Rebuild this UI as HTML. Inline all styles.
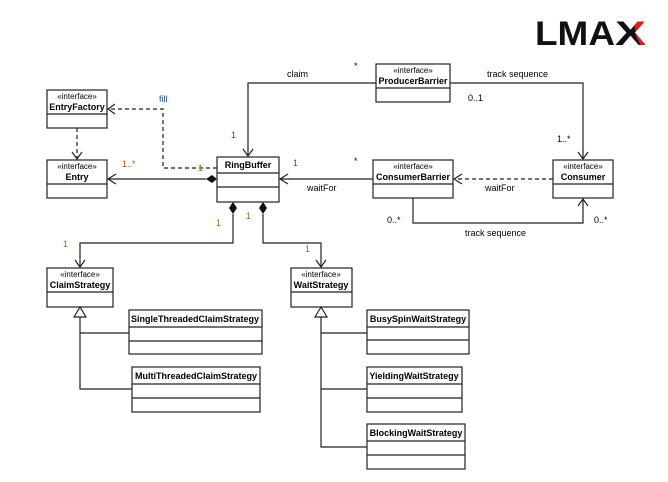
<!DOCTYPE html>
<html><head><meta charset="utf-8"><style>
html,body{margin:0;padding:0;background:#fff;}
svg{display:block;}
text{font-family:"Liberation Sans",Arial,sans-serif;font-size:9px;}
.b{font-weight:bold;}
.s{font-size:8px;}
.o{fill:#b06000;}
.bl{fill:#1a4fa0;}
</style></head><body>
<svg width="668" height="482" viewBox="0 0 668 482" xmlns="http://www.w3.org/2000/svg">
<defs>
<clipPath id="cr"><polygon points="633,15 660,15 660,50 643,50 636,36"/></clipPath>
</defs>
<g stroke="#222" fill="#fff" stroke-width="1.2">
<rect x="47" y="90" width="60" height="38"/><line x1="47" y1="114" x2="107" y2="114"/>
<rect x="47" y="160" width="60" height="38"/><line x1="47" y1="184" x2="107" y2="184"/>
<rect x="217" y="157" width="62" height="45"/><line x1="217" y1="173" x2="279" y2="173"/><line x1="217" y1="187" x2="279" y2="187"/>
<rect x="376" y="64" width="74" height="38"/><line x1="376" y1="88" x2="450" y2="88"/>
<rect x="373" y="160" width="80" height="38"/><line x1="373" y1="184" x2="453" y2="184"/>
<rect x="553" y="160" width="60" height="38"/><line x1="553" y1="184" x2="613" y2="184"/>
<rect x="47" y="268" width="66" height="39"/><line x1="47" y1="292" x2="113" y2="292"/>
<rect x="291" y="268" width="61" height="39"/><line x1="291" y1="292" x2="352" y2="292"/>
<rect x="129" y="310" width="133" height="44"/><line x1="129" y1="327" x2="262" y2="327"/><line x1="129" y1="341" x2="262" y2="341"/>
<rect x="132" y="367" width="128" height="45"/><line x1="132" y1="384" x2="260" y2="384"/><line x1="132" y1="398" x2="260" y2="398"/>
<rect x="367" y="310" width="102" height="44"/><line x1="367" y1="327" x2="469" y2="327"/><line x1="367" y1="340" x2="469" y2="340"/>
<rect x="367" y="367" width="95" height="45"/><line x1="367" y1="384" x2="462" y2="384"/><line x1="367" y1="398" x2="462" y2="398"/>
<rect x="367" y="424" width="98" height="45"/><line x1="367" y1="441" x2="465" y2="441"/><line x1="367" y1="455" x2="465" y2="455"/>
</g>
<g stroke="#222" fill="none" stroke-width="1.2">
<line x1="77" y1="128" x2="77" y2="159" stroke-dasharray="4,3"/>
<polyline points="72,152 77,159 82,152"/>
<polyline points="217,168 163,168 163,109 108,109" stroke-dasharray="4,3"/>
<polyline points="115,104 108,109 115,114"/>
<line x1="108" y1="179" x2="206" y2="179"/>
<polyline points="116,174 108,179 116,184"/>
<polyline points="376,83 248,83 248,156"/>
<polyline points="243,149 248,156 253,149"/>
<line x1="373" y1="179" x2="280" y2="179"/>
<polyline points="288,174 280,179 288,184"/>
<polyline points="450,83 583,83 583,159"/>
<polyline points="578,152 583,159 588,152"/>
<line x1="553" y1="179" x2="454" y2="179" stroke-dasharray="4,3"/>
<polyline points="462,174 454,179 462,184"/>
<polyline points="413,198 413,223 583,223 583,199"/>
<polyline points="578,206 583,199 588,206"/>
<polyline points="233,214 233,243 80,243 80,267"/>
<polyline points="75,260 80,267 85,260"/>
<polyline points="263,214 263,243 321,243 321,267"/>
<polyline points="316,260 321,267 326,260"/>
<polyline points="80,317 80,389 132,389"/>
<line x1="80" y1="333" x2="129" y2="333"/>
<polyline points="321,317 321,447 367,447"/>
<line x1="321" y1="333" x2="367" y2="333"/>
<line x1="321" y1="389" x2="367" y2="389"/>
</g>
<g fill="#fff" stroke="#222" stroke-width="1.2">
<polygon points="80,307 74,317 86,317"/>
<polygon points="321,307 315,317 327,317"/>
</g>
<g fill="#111">
<polygon points="217,179 212,175 206,179 212,183"/>
<polygon points="233,202 229,208 233,214 237,208"/>
<polygon points="263,202 259,208 263,214 267,208"/>
</g>
<g text-anchor="middle">
<text x="77" y="99" class="s">«interface»</text><text x="77" y="110" class="b">EntryFactory</text>
<text x="77" y="169" class="s">«interface»</text><text x="77" y="180" class="b">Entry</text>
<text x="248" y="168" class="b">RingBuffer</text>
<text x="413" y="73" class="s">«interface»</text><text x="413" y="84" class="b">ProducerBarrier</text>
<text x="413" y="169" class="s">«interface»</text><text x="413" y="180" class="b">ConsumerBarrier</text>
<text x="583" y="169" class="s">«interface»</text><text x="583" y="180" class="b">Consumer</text>
<text x="80" y="277" class="s">«interface»</text><text x="80" y="288" class="b">ClaimStrategy</text>
<text x="321" y="277" class="s">«interface»</text><text x="321" y="288" class="b">WaitStrategy</text>
<text x="195" y="322" class="b">SingleThreadedClaimStrategy</text>
<text x="196" y="379" class="b">MultiThreadedClaimStrategy</text>
<text x="418" y="322" class="b">BusySpinWaitStrategy</text>
<text x="414" y="379" class="b">YieldingWaitStrategy</text>
<text x="416" y="436" class="b">BlockingWaitStrategy</text>
</g>
<text x="287" y="77">claim</text>
<text x="487" y="77">track sequence</text>
<text x="307" y="191">waitFor</text>
<text x="485" y="191">waitFor</text>
<text x="465" y="236">track sequence</text>
<text x="159" y="102" class="bl">fill</text>
<text x="231" y="138" class="bl">1</text>
<text x="293" y="166" class="bl">1</text>
<text x="354" y="69">*</text>
<text x="354" y="164">*</text>
<text x="468" y="101">0..1</text>
<text x="557" y="142">1..*</text>
<text x="387" y="223">0..*</text>
<text x="594" y="223">0..*</text>
<text x="122" y="167" class="o">1..*</text>
<text x="198" y="171" class="o">1</text>
<text x="216" y="226" class="o">1</text>
<text x="246" y="219" class="o">1</text>
<text x="63" y="247" class="o">1</text>
<text x="305" y="252" class="o">1</text>
<text x="535" y="45" textLength="80" lengthAdjust="spacingAndGlyphs" style="font-size:34px;font-weight:900" fill="#111">LMA</text>
<text x="615" y="45" textLength="31" lengthAdjust="spacingAndGlyphs" style="font-size:34px;font-weight:900" fill="#111">X</text>
<text x="615" y="45" textLength="31" lengthAdjust="spacingAndGlyphs" style="font-size:34px;font-weight:900" fill="#e01c1c" clip-path="url(#cr)">X</text>
</svg>
</body></html>
